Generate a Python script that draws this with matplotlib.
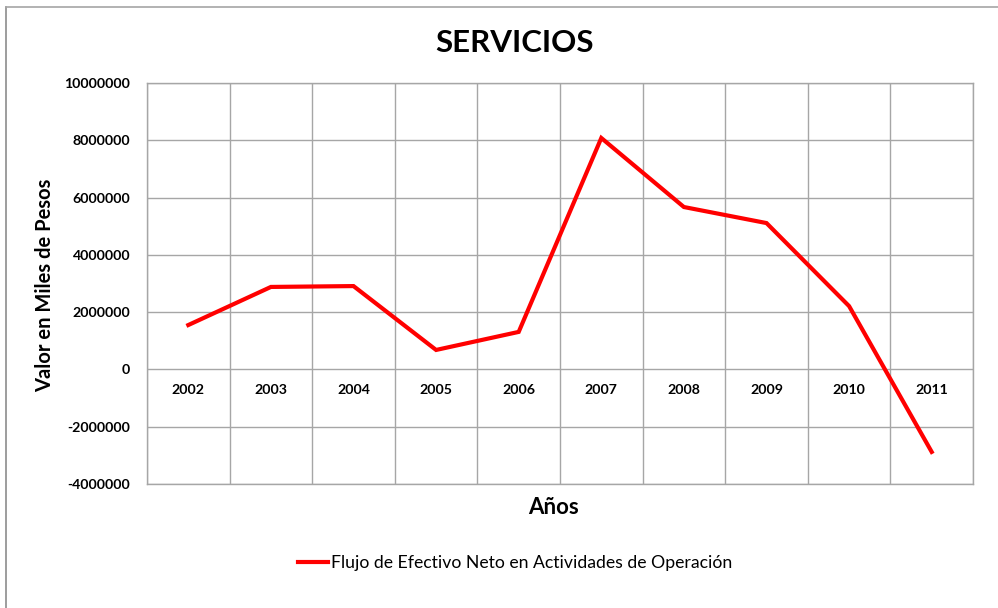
import numpy as np
import matplotlib.pyplot as plt
from matplotlib.lines import Line2D

plt.rcParams['font.family'] = ['Lato', 'DejaVu Sans']

## Data
years = ["2002", "2003", "2004", "2005", "2006", "2007", "2008", "2009", "2010", "2011"]
flujo = [1550000, 2880000, 2910000, 680000, 1310000, 8080000, 5670000, 5110000, 2210000, -2880000]
y_ticks = [-4000000, -2000000, 0, 2000000, 4000000, 6000000, 8000000, 10000000]

fig = plt.figure(figsize=(9.98, 6.08), dpi=100)
ax = fig.add_axes([147/998, 1 - 484/608, (973 - 147)/998, (484 - 83)/608])

x = np.arange(len(years))
ax.plot(x, flujo, color="#FF0000", linewidth=3, solid_joinstyle="miter",
        label="Flujo de Efectivo Neto en Actividades de Operación")

ax.set_xlim(-0.5, len(years) - 0.5)
ax.set_ylim(y_ticks[0], y_ticks[-1])
ax.set_yticks(y_ticks)
ax.set_yticklabels([str(v) for v in y_ticks], fontsize=10.2, fontweight="bold")
ax.tick_params(axis="y", length=0, pad=12)

# vertical grid at category boundaries
ax.set_xticks(np.arange(len(years) + 1) - 0.5)
ax.set_xticklabels([])
ax.tick_params(axis="x", length=0)
ax.grid(True, color="#a6a6a6", linewidth=1)
ax.set_axisbelow(True)
for s in ax.spines.values():
    s.set_color("#a6a6a6")
    s.set_linewidth(1)

# category labels sit just under the zero line
for i, yr in enumerate(years):
    ax.annotate(yr, xy=(i, 0), xytext=(0, -14.5), textcoords="offset points",
                ha="center", va="center", fontsize=10.2, fontweight="bold")

fig.text(515/998, 1 - 43/608, "SERVICIOS", ha="center", va="center",
         fontsize=22.5, fontweight="bold")
fig.text(45/998, 1 - 285/608, "Valor en Miles de Pesos", ha="center", va="center",
         rotation=90, fontsize=14.5, fontweight="bold")
fig.text(553/998, 1 - 507/608, "Años", ha="center", va="center",
         fontsize=16, fontweight="bold")

leg = fig.legend(loc="center", bbox_to_anchor=(515/998, 1 - 563/608), frameon=False,
                 fontsize=12.7, handlelength=1.7, handletextpad=0.15)

# outer chart border (top and left visible)
fig.add_artist(Line2D([6/998, 6/998], [0, 1 - 7/608], color="#8c8c8c", linewidth=1.2,
                      transform=fig.transFigure))
fig.add_artist(Line2D([6/998, 1], [1 - 7/608, 1 - 7/608], color="#a6a6a6", linewidth=1.2,
                      transform=fig.transFigure))

fig.savefig("out.png", dpi=100)
